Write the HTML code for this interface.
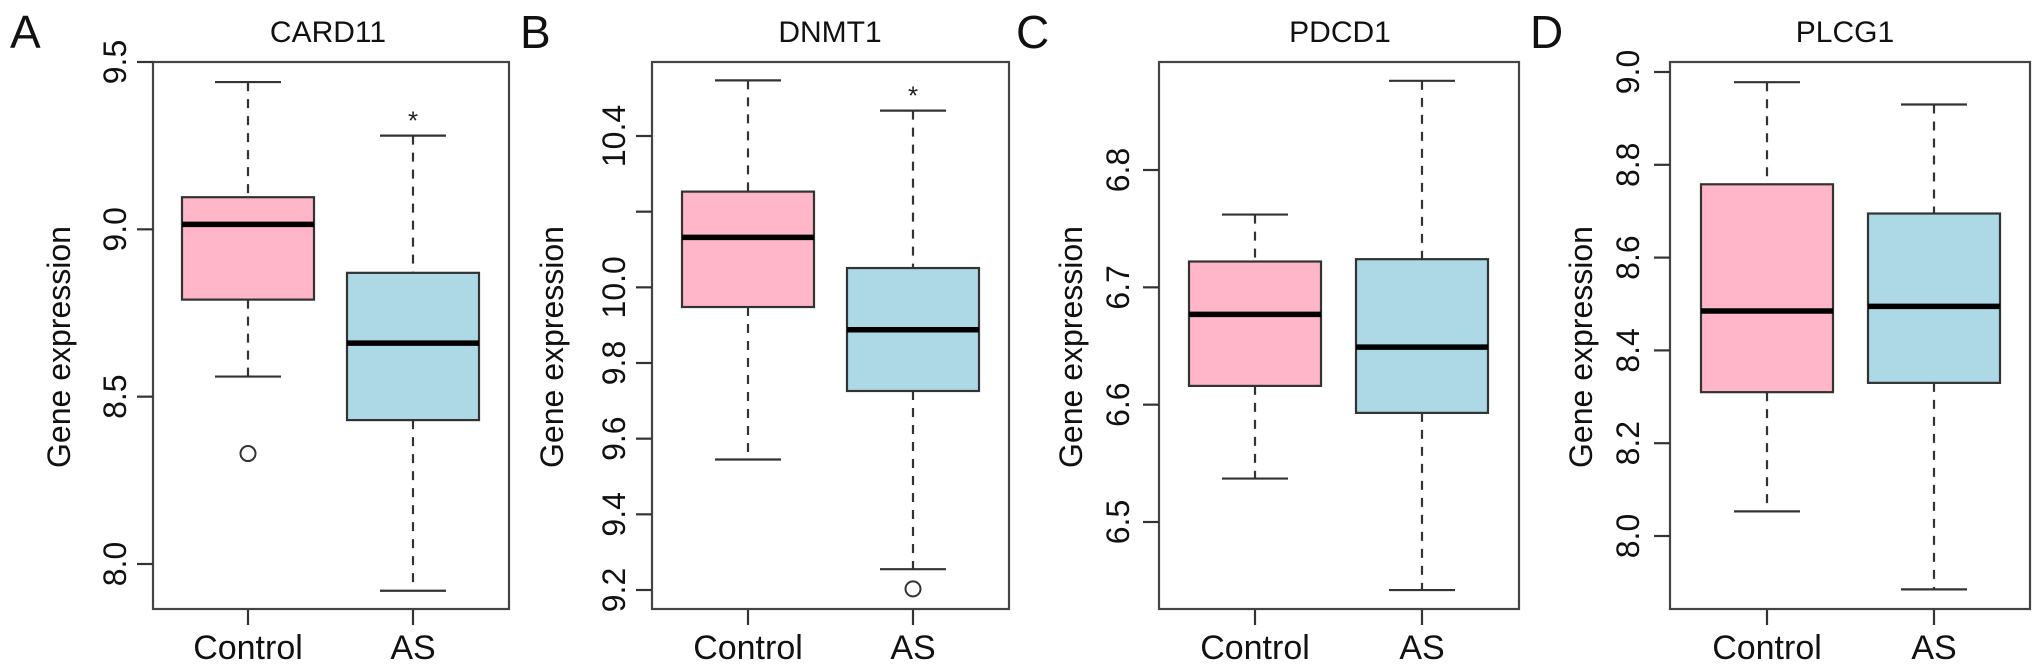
<!DOCTYPE html>
<html><head><meta charset="utf-8"><style>
html,body{margin:0;padding:0;background:#fff;}
svg{display:block;font-family:"Liberation Sans",sans-serif;}
</style></head><body>
<svg id="fig" width="2032" height="668" viewBox="0 0 2032 668"></svg>
<script>
const categories = ["Control","AS"];
const panelLetters = ["A","B","C","D"];
const panelTitles = ["CARD11","DNMT1","PDCD1","PLCG1"];
// [lowerWhisker, Q1, median, Q3, upperWhisker] per group
const cardControl = [8.56, 8.79, 9.015, 9.096, 9.44];
const cardAS      = [7.92, 8.43, 8.66, 8.87, 9.28];
const dnmtControl = [9.545, 9.948, 10.132, 10.253, 10.547];
const dnmtAS      = [9.255, 9.726, 9.888, 10.051, 10.467];
const pdcdControl = [6.537, 6.616, 6.677, 6.722, 6.762];
const pdcdAS      = [6.442, 6.593, 6.649, 6.724, 6.876];
const plcgControl = [8.053, 8.31, 8.485, 8.758, 8.978];
const plcgAS      = [7.885, 8.33, 8.495, 8.695, 8.93];
const outliers = [[[8.33],[]],[[],[9.203]],[[],[]],[[],[]]];
const starGroups = [[false,true],[false,true],[false,false],[false,false]];
const tickLabelsA = ["8.0","8.5","9.0","9.5"];
const tickLabelsB = ["9.2","9.4","9.6","9.8","10.0","10.2","10.4"];
const tickLabelsC = ["6.5","6.6","6.7","6.8"];
const tickLabelsD = ["8.0","8.2","8.4","8.6","8.8","9.0"];
const hiddenLabelsB = ["10.2"];

// layout (not data)
const layouts = [
  {L:153,R:509,cx:[248,413],hw:66,v0:8.0,p0:564,v1:9.5,p1:62,tlx:114,ylx:58,letterX:10,titleX:328},
  {L:652,R:1009,cx:[748,913],hw:66,v0:9.2,p0:590,v1:10.4,p1:136,tlx:613,ylx:551,letterX:520,titleX:830},
  {L:1159,R:1519,cx:[1255,1422],hw:66,v0:6.5,p0:522,v1:6.8,p1:170,tlx:1117,ylx:1070,letterX:1016,titleX:1340},
  {L:1670,R:2030,cx:[1767,1934],hw:66,v0:8.0,p0:536,v1:9.0,p1:72,tlx:1627,ylx:1580,letterX:1530,titleX:1845}
];
const series = [[cardControl,cardAS],[dnmtControl,dnmtAS],[pdcdControl,pdcdAS],[plcgControl,plcgAS]];
const ticks = [tickLabelsA,tickLabelsB,tickLabelsC,tickLabelsD];
const fills = ["#ffb6c8","#add8e6"];
const TOP=62, BOT=609;
const NS="http://www.w3.org/2000/svg";
const svg=document.getElementById('fig');
function mk(tag,attrs,parent){const e=document.createElementNS(NS,tag);for(const k in attrs)e.setAttribute(k,attrs[k]);(parent||svg).appendChild(e);return e;}

layouts.forEach((ly,pi)=>{
  const y=v=>ly.p0+(v-ly.v0)*(ly.p1-ly.p0)/(ly.v1-ly.v0);
  const g=mk('g',{});
  
  
  const letter=mk('text',{x:ly.letterX,y:48,'font-size':46,fill:'#111'},g);
  letter.textContent=panelLetters[pi];
  
  
  const title=mk('text',{x:ly.titleX,y:42,'font-size':30,'text-anchor':'middle',fill:'#111'},g);
  title.textContent=panelTitles[pi];
  
  
  series[pi].forEach((s,gi)=>{
    const cx=ly.cx[gi], hw=ly.hw, wh=hw*0.5;
    const bg=mk('g',{},g);
    
    
    mk('line',{x1:cx,x2:cx,y1:y(s[4]),y2:y(s[3]),stroke:'#333','stroke-width':2.2,'stroke-dasharray':'9,8'},bg);
    mk('line',{x1:cx,x2:cx,y1:y(s[1]),y2:y(s[0]),stroke:'#333','stroke-width':2.2,'stroke-dasharray':'9,8'},bg);
    mk('line',{x1:cx-wh,x2:cx+wh,y1:y(s[4]),y2:y(s[4]),stroke:'#333','stroke-width':2.2},bg);
    mk('line',{x1:cx-wh,x2:cx+wh,y1:y(s[0]),y2:y(s[0]),stroke:'#333','stroke-width':2.2},bg);
    mk('rect',{x:cx-hw,y:y(s[3]),width:2*hw,height:y(s[1])-y(s[3]),fill:fills[gi],stroke:'#333','stroke-width':2.2},bg);
    mk('line',{x1:cx-hw,x2:cx+hw,y1:y(s[2]),y2:y(s[2]),stroke:'#000','stroke-width':5.5},bg);
    outliers[pi][gi].forEach(v=>{
      const c=mk('circle',{cx:cx,cy:y(v),r:7.5,fill:'none',stroke:'#333','stroke-width':2},bg);
      
      
    });
    if(starGroups[pi][gi]){
      const st=mk('text',{x:cx,y:y(s[4])-6,'font-size':26,'text-anchor':'middle',fill:'#222'},bg);
      st.textContent='*';
      
      
    }
    mk('line',{x1:cx,x2:cx,y1:BOT,y2:BOT+16,stroke:'#333','stroke-width':2.2},g);
    const xl=mk('text',{x:cx,y:659,'font-size':34,'text-anchor':'middle',fill:'#111'},g);
    xl.textContent=categories[gi];
    
    
  });
  const fr=mk('rect',{x:ly.L,y:TOP,width:ly.R-ly.L,height:BOT-TOP,fill:'none',stroke:'#444','stroke-width':2.2},g);
  
  
  ticks[pi].forEach(t=>{
    const v=parseFloat(t), py=y(v);
    mk('line',{x1:ly.L-16,x2:ly.L,y1:py,y2:py,stroke:'#333','stroke-width':2.2},g);
    if(pi===1 && hiddenLabelsB.includes(t)) return;
    const tl=mk('text',{x:0,y:0,'font-size':32,'text-anchor':'middle',fill:'#111',transform:`translate(${ly.tlx+12},${py}) rotate(-90)`},g);
    tl.textContent=t;
    
    
  });
  const yl=mk('text',{x:0,y:0,'font-size':32,'text-anchor':'middle',fill:'#111',transform:`translate(${ly.ylx+12},347) rotate(-90)`},g);
  yl.textContent='Gene expression';
  
  
});
</script>
</body></html>
